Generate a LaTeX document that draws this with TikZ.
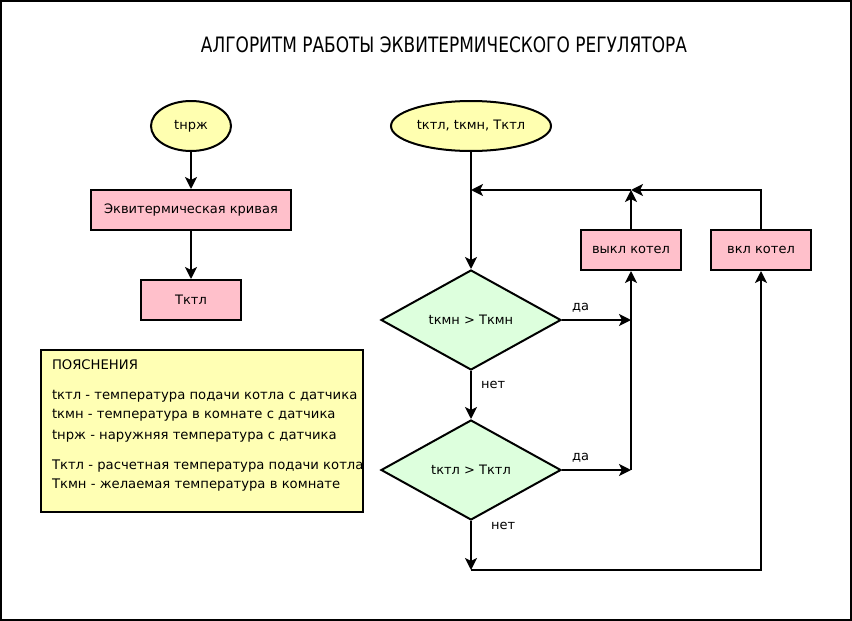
\documentclass[tikz,border=0pt]{standalone}
\usepackage{fontspec}
\setmainfont{DejaVu Sans}
\newfontfamily\titlefont[FakeStretch=0.8]{DejaVu Sans}
\usetikzlibrary{shapes.geometric,arrows.meta,positioning}

\definecolor{inyellow}{HTML}{FFFFB0}
\definecolor{procpink}{HTML}{FFC0CB}
\definecolor{condgreen}{HTML}{DDFFDD}
\definecolor{notebg}{HTML}{FFFFB4}

\begin{document}
\begin{tikzpicture}
[x=1pt,y=-1pt,line width=2pt,>={Stealth[length=12pt,width=12pt,inset=3pt]}]
\tikzset{
	input/.style = {ellipse, draw, fill=inyellow, minimum height=50pt, inner sep=0, font=\fontsize{13}{15}\selectfont},
	proc/.style = {rectangle, draw, fill=procpink, minimum height=40pt, minimum width=100pt, inner sep=0, font=\fontsize{13}{15}\selectfont},
	cond/.style = {diamond, draw, fill=condgreen, minimum width=180pt, minimum height=100pt, inner sep=0, font=\fontsize{13}{15}\selectfont},
	lbl/.style = {font=\fontsize{13}{15}\selectfont, inner sep=1pt},
	note/.style = {anchor=west, inner sep=0, font=\fontsize{13.2}{15}\selectfont}
}

\useasboundingbox (0,0) rectangle (852,621);
\draw[line width=2pt] (1,1) rectangle (851,620);

\node (title) at (444,45) {\titlefont\fontsize{21.2}{24}\selectfont АЛГОРИТМ РАБОТЫ ЭКВИТЕРМИЧЕСКОГО РЕГУЛЯТОРА};

% left column
\node (tout) [input, minimum width=80pt] at (191,126) {tнрж};
\node (curve) [proc, minimum width=200pt] at (191,210) {Эквитермическая кривая};
\node (tcalc) [proc] at (191,300) {Tктл};

\draw [->] (tout) -- (curve);
\draw [->] (curve) -- (tcalc);

% notes
\node (notes) [fill=notebg, minimum width=320pt, minimum height=160pt, anchor=north west, inner sep=0] at (41,350) {};
\begin{scope}
	\clip (notes.north west) rectangle (notes.south east);
	\node (n0) [note] at (51,365) {ПОЯСНЕНИЯ};
	\node (n1) [note] at (51,396) {tктл - температура подачи котла с датчика};
	\node (n2) [note] at (51,415) {tкмн - температура в комнате с датчика};
	\node (n3) [note] at (51,436) {tнрж - наружняя температура с датчика};
	\node (n4) [note] at (51,466) {Tктл - расчетная температура подачи котла};
	\node (n5) [note] at (51,485) {Tкмн - желаемая температура в комнате};
\end{scope}
\draw (notes.north west) rectangle (notes.south east);

% right column
\node (tin) [input, minimum width=160pt] at (471,126) {tктл, tкмн, Tктл};
\node (cmp1) [cond] at (471,320) {tкмн > Tкмн};
\node (cmp2) [cond] at (471,470) {tктл > Tктл};
\node (off) [proc] at (631,250) {выкл котел};
\node (on) [proc] at (761,250) {вкл котел};

\coordinate (j1) at (631,320);
\coordinate (j2) at (631,470);
\coordinate (top1) at (631,190);
\coordinate (top2) at (471,190);
\coordinate (bot) at (471,570);

\draw [->] (tin) -- (cmp1);
\draw [->] (cmp1) -- node [lbl, right, pos=0.3, xshift=8pt] {нет} (cmp2);
\draw [->] (cmp2) -- node [lbl, right, pos=0.1, xshift=18pt] {нет} (bot);
\draw [->] (cmp1.east) -- node [lbl, above, pos=0.27, yshift=6pt] {да} (j1);
\draw [->] (cmp2.east) -- node [lbl, above, pos=0.27, yshift=6pt] {да} (j2);
\draw [->] (j2) -- (off.south);
\draw [->] (off) -- (top1);
\draw [->] (on.north) |- (top1);
\draw [->] (top1) -- (top2);
\draw [->] (bot) -| (on.south);
\end{tikzpicture}
\end{document}
